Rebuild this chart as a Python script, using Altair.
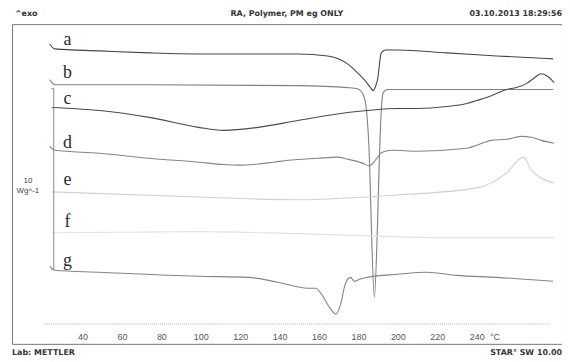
import altair as alt
import pandas as pd

# Temperatures (°C) and heat flow (W/g, curves stacked with offsets)
a_T = [23.4, 25.9, 48.6, 73.8, 98.9, 149.3, 164.4, 174.5, 179.5, 184.6, 186.1, 187.6, 188.6, 189.6, 191.6, 193.7, 199.7, 224.9, 250.1, 278.8]
a_v = [16.59, 16.32, 16.21, 16.10, 16.04, 16.04, 15.93, 15.49, 15.00, 14.40, 14.18, 14.01, 14.23, 14.56, 16.10, 16.26, 16.26, 16.10, 15.93, 15.77]

b_T = [23.4, 25.9, 73.8, 149.3, 174.5, 179.5, 182.6, 184.1, 185.6, 186.6, 188.1, 189.6, 190.6, 191.6, 192.6, 194.7, 278.8]
b_v = [14.62, 14.34, 14.34, 14.29, 14.18, 14.12, 13.74, 12.91, 10.16, 6.32, 2.58, 6.32, 10.16, 12.91, 13.90, 14.07, 14.07]

c_T = [24.4, 48.6, 73.8, 98.9, 111.5, 129.2, 149.3, 174.5, 184.6, 199.7, 209.8, 224.9, 235.0, 240.0, 245.0, 250.1, 255.1, 260.2, 265.2, 268.7, 272.7, 276.3, 279.3]
c_v = [13.08, 12.91, 12.53, 11.98, 11.81, 11.98, 12.36, 12.80, 12.91, 13.02, 13.02, 13.13, 13.30, 13.46, 13.63, 13.85, 14.07, 14.18, 14.40, 14.67, 14.95, 14.78, 14.45]

d_T = [23.4, 25.9, 48.6, 73.8, 98.9, 111.5, 119.1, 129.2, 136.8, 144.3, 159.4, 169.5, 174.5, 182.1, 185.6, 188.6, 192.1, 197.2, 209.8, 235.0, 240.0, 247.6, 255.1, 262.7, 267.7, 272.7, 279.3]
d_v = [10.93, 10.71, 10.55, 10.27, 10.05, 9.92, 9.89, 9.95, 10.05, 10.16, 10.27, 10.33, 10.22, 10.00, 9.84, 10.16, 10.60, 10.71, 10.66, 10.82, 10.99, 11.26, 11.32, 11.48, 11.43, 11.26, 11.10]

e_T = [24.4, 98.9, 149.3, 184.6, 199.7, 240.0, 255.1, 263.7, 267.7, 272.7, 279.3]
e_v = [8.41, 8.13, 7.97, 8.13, 8.24, 8.63, 9.45, 10.33, 9.62, 9.18, 8.90]

f_T = [24.4, 98.9, 149.3, 224.9, 279.3]
f_v = [6.15, 6.21, 6.10, 5.88, 5.88]

g_T = [23.4, 25.9, 48.6, 98.9, 124.1, 139.2, 154.4, 158.4, 161.9, 165.9, 168.5, 171.0, 173.0, 174.5, 176.0, 178.0, 180.5, 184.6, 199.7, 214.8, 229.9, 250.1, 278.8]
g_v = [4.29, 4.07, 3.96, 3.74, 3.68, 3.41, 3.08, 3.08, 2.64, 1.92, 1.65, 2.20, 3.19, 3.57, 3.68, 3.46, 3.57, 3.68, 3.85, 3.96, 3.79, 3.68, 3.46]

series_names = ["a", "b", "c", "d", "e", "f", "g"]
series_colors = ["#454545", "#808080", "#4a4a4a", "#858585", "#d0d0d0", "#e2e2e2", "#858585"]
label_T = [32.4] * 7
label_v = [16.81, 15.00, 13.57, 11.10, 9.07, 6.76, 4.56]

tick_values = [40, 60, 80, 100, 120, 140, 160, 180, 200, 220, 240, 249]

scale_bar_T = 25.4
scale_bar_top = 14.12
scale_bar_bottom = 4.12

X_DOMAIN = [4.2, 283.3]
Y_DOMAIN = [0, 17.69]

curves = {"a": (a_T, a_v), "b": (b_T, b_v), "c": (c_T, c_v), "d": (d_T, d_v),
          "e": (e_T, e_v), "f": (f_T, f_v), "g": (g_T, g_v)}
rows = []
for name, (ts, vs) in curves.items():
    for i, (t, v) in enumerate(zip(ts, vs)):
        rows.append({"series": name, "T": t, "v": v, "i": i})
df = pd.DataFrame(rows)

X_AXIS = alt.Axis(
    values=tick_values, labelExpr="datum.value == 249 ? '°C' : datum.label",
    domain=False, ticks=False, grid=False, title=None,
    labelPadding=-7, labelBaseline="middle", labelFont="Liberation Sans Narrow, Liberation Sans",
    labelFontSize=9, labelColor="#555555")


def X(field="T"):
    return alt.X(f"{field}:Q", scale=alt.Scale(domain=X_DOMAIN, nice=False, zero=False), axis=X_AXIS)


def Y(field="v"):
    return alt.Y(f"{field}:Q", scale=alt.Scale(domain=Y_DOMAIN, nice=False, zero=False), axis=None)


lines = alt.Chart(df).mark_line(strokeWidth=1.1, interpolate="monotone").encode(
    x=X(), y=Y(),
    color=alt.Color("series:N", scale=alt.Scale(domain=series_names, range=series_colors), legend=None),
    order="i:Q",
)

labels_df = pd.DataFrame({"name": series_names, "T": label_T, "v": label_v})
labels = alt.Chart(labels_df).mark_text(font="Liberation Serif", fontSize=18, color="#2a2a2a",
                                        align="center", baseline="middle").encode(
    x=X(), y=Y(), text="name:N")

bar_df = pd.DataFrame({"T": [scale_bar_T], "v": [scale_bar_top], "v2": [scale_bar_bottom]})
bar = alt.Chart(bar_df).mark_rule(color="#8a8a8a", strokeWidth=1).encode(
    x=X(), y=Y(), y2="v2:Q")

serif_df = pd.DataFrame({"T": [24.2, 24.2], "T2": [scale_bar_T, scale_bar_T],
                         "v": [scale_bar_top, scale_bar_bottom]})
serifs = alt.Chart(serif_df).mark_rule(color="#8a8a8a", strokeWidth=1).encode(
    x=X(), x2="T2:Q", y=Y())

base_df = pd.DataFrame({"T": [20.9], "T2": [277.8], "v": [1.10]})
baseline = alt.Chart(base_df).mark_rule(color="#b0b0b0", strokeWidth=1, strokeDash=[1, 1]).encode(
    x=X(), x2="T2:Q", y=Y())

unit_df = pd.DataFrame({"T": [12.3, 12.3], "v": [9.01, 8.46], "txt": ["10", "Wg^-1"]})
unit = alt.Chart(unit_df).mark_text(font="Liberation Sans", fontSize=8, color="#444444",
                                    align="center", baseline="middle").encode(
    x=X(), y=Y(), text="txt:N")

hdr_T = [5.7, 143.7, 283.3, 4.2, 283.3]
hdr_v = [18.24, 18.24, 18.24, -0.49, -0.49]
hdr_txt = ["^exo", "RA, Polymer, PM eg ONLY", "03.10.2013 18:29:56", "Lab: METTLER", "STAR° SW 10.00"]
hdr_al = ["left", "center", "right", "left", "right"]


def hdr_layer(al):
    sub = pd.DataFrame({"T": [t for t, a in zip(hdr_T, hdr_al) if a == al],
                        "v": [v for v, a in zip(hdr_v, hdr_al) if a == al],
                        "txt": [s for s, a in zip(hdr_txt, hdr_al) if a == al]})
    return alt.Chart(sub).mark_text(font="DejaVu Sans", fontSize=8, fontWeight="bold",
                                    color="#333333", align=al, baseline="middle").encode(
        x=X(), y=Y(), text="txt:N")


chart = alt.layer(lines, baseline, bar, serifs, labels, unit,
                  hdr_layer("left"), hdr_layer("center"), hdr_layer("right")).properties(
    width=554, height=322,
    autosize=alt.AutoSizeParams(type="none"),
    padding={"left": 4, "top": 15, "right": 0, "bottom": 15},
).configure_view(stroke="#777777", strokeWidth=1)

chart.save("out.html", embed_options={"renderer": "svg", "actions": False})
